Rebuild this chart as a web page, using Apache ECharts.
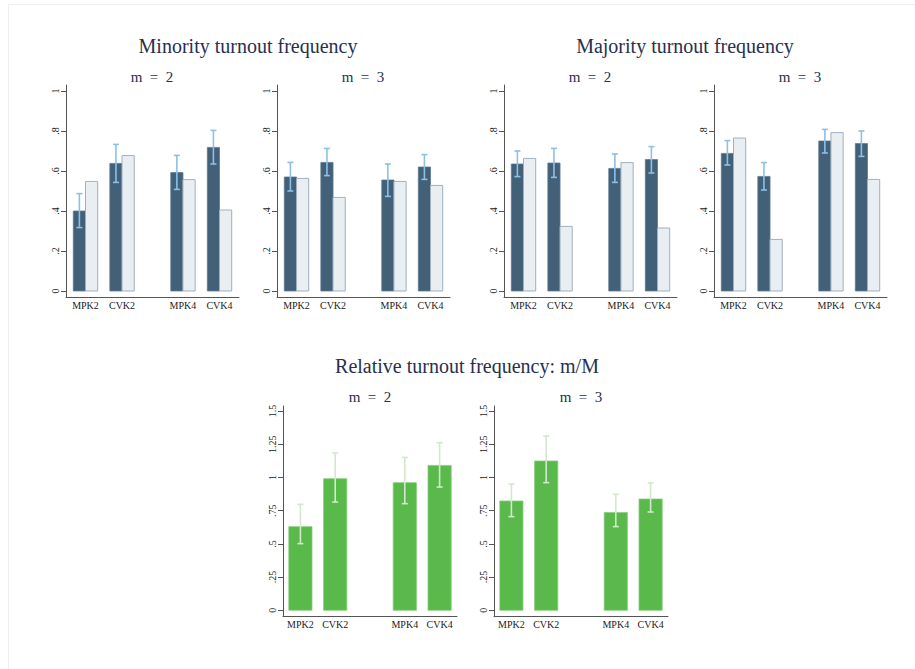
<!DOCTYPE html>
<html>
<head>
<meta charset="utf-8">
<script src="https://cdn.jsdelivr.net/npm/echarts@6/dist/echarts.min.js"></script>
<style>
  html, body { margin: 0; padding: 0; background: #ffffff; }
  #chart { width: 915px; height: 669px; }
</style>
</head>
<body>
<div id="chart"></div>
<script>
// ---------- data ----------
const categories = ['MPK2', 'CVK2', 'MPK4', 'CVK4'];
const freqTicks = [0, 0.2, 0.4, 0.6, 0.8, 1];
const relTicks = [0, 0.25, 0.5, 0.75, 1, 1.25, 1.5];

const minorityM2Obs = [0.400, 0.638, 0.592, 0.718];
const minorityM2Lo  = [0.317, 0.543, 0.508, 0.635];
const minorityM2Hi  = [0.487, 0.733, 0.678, 0.803];
const minorityM2Eq  = [0.548, 0.677, 0.557, 0.405];

const minorityM3Obs = [0.570, 0.643, 0.555, 0.620];
const minorityM3Lo  = [0.500, 0.577, 0.473, 0.558];
const minorityM3Hi  = [0.643, 0.713, 0.635, 0.682];
const minorityM3Eq  = [0.563, 0.468, 0.548, 0.528];

const majorityM2Obs = [0.635, 0.640, 0.613, 0.657];
const majorityM2Lo  = [0.572, 0.568, 0.543, 0.590];
const majorityM2Hi  = [0.700, 0.713, 0.685, 0.722];
const majorityM2Eq  = [0.663, 0.323, 0.642, 0.315];

const majorityM3Obs = [0.688, 0.573, 0.750, 0.737];
const majorityM3Lo  = [0.630, 0.505, 0.690, 0.673];
const majorityM3Hi  = [0.752, 0.642, 0.808, 0.800];
const majorityM3Eq  = [0.765, 0.258, 0.792, 0.558];

const relativeM2    = [0.630, 0.991, 0.961, 1.091];
const relativeM2Lo  = [0.502, 0.815, 0.803, 0.928];
const relativeM2Hi  = [0.798, 1.184, 1.151, 1.262];

const relativeM3    = [0.823, 1.124, 0.737, 0.838];
const relativeM3Lo  = [0.705, 0.961, 0.630, 0.740];
const relativeM3Hi  = [0.951, 1.312, 0.873, 0.958];

// ---------- layout / style ----------
const SERIF = '"Liberation Serif", "DejaVu Serif", serif';
const NAVY = '#27304f';
const AXIS = '#555555';
const DARK = '#436079';
const LIGHT = '#e9eef2';
const LIGHT_BORDER = '#9fb0bf';
const CI_BLUE = '#8cc0e6';
const GREEN = '#59b94b';
const CI_GREEN = '#d2e7cd';

// group slots along the x axis (a wider gap between the 2 and 4 groups)
const topPos = categories.map((c, i) => i * 3 + (i >= 2 ? 2 : 0));
const botPos = categories.map((c, i) => i * 3 + (i >= 2 ? 3 : 0));

const tickFmt = v => {
  const s = String(+v.toFixed(2));
  return s.startsWith('0.') ? s.slice(1) : s;
};

const chart = echarts.init(document.getElementById('chart'), null, { renderer: 'svg' });

const grids = [], xAxes = [], yAxes = [], series = [];

function addPanel(left, top, width, height, pos, xMin, xMax, yMin, yMax, ticks) {
  const idx = grids.length;
  grids.push({ left, top, width, height, containLabel: false });
  xAxes.push({
    gridIndex: idx, type: 'value', min: xMin, max: xMax,
    axisLine: { show: true, onZero: false, lineStyle: { color: AXIS, width: 1 } },
    axisTick: { show: false },
    splitLine: { show: false },
    axisLabel: {
      show: true, customValues: pos, margin: 3,
      formatter: v => categories[pos.indexOf(v)] || '',
      fontFamily: SERIF, fontSize: 10, color: '#222'
    }
  });
  yAxes.push({
    gridIndex: idx, type: 'value', min: yMin, max: yMax,
    axisLine: { show: true, onZero: false, lineStyle: { color: AXIS, width: 1 } },
    axisTick: { show: true, customValues: ticks, length: 5, lineStyle: { color: AXIS } },
    splitLine: { show: false },
    axisLabel: {
      show: true, customValues: ticks, rotate: 90, margin: 6,
      formatter: tickFmt, fontFamily: SERIF, fontSize: 10, color: '#222'
    }
  });
  return idx;
}

function barSeries(idx, pos, values, offset, w, fill, stroke, strokeW) {
  return {
    type: 'custom', xAxisIndex: idx, yAxisIndex: idx,
    data: values.map((v, i) => [pos[i], v]),
    encode: { x: 0, y: 1 },
    renderItem: (params, api) => {
      const x = api.value(0), v = api.value(1);
      const a = api.coord([x + offset, 0]);
      const b = api.coord([x + offset + w, v]);
      return {
        type: 'rect',
        shape: { x: a[0], y: b[1], width: b[0] - a[0], height: a[1] - b[1] },
        style: { fill, stroke, lineWidth: strokeW }
      };
    },
    z: 2
  };
}

function ciSeries(idx, pos, lo, hi, offset, color) {
  return {
    type: 'custom', xAxisIndex: idx, yAxisIndex: idx,
    data: lo.map((l, i) => [pos[i], l, hi[i]]),
    encode: { x: 0, y: [1, 2] },
    renderItem: (params, api) => {
      const x = api.value(0) + offset;
      const p1 = api.coord([x, api.value(1)]);
      const p2 = api.coord([x, api.value(2)]);
      const cw = 3;
      const st = { stroke: color, lineWidth: 1.6 };
      return {
        type: 'group',
        children: [
          { type: 'line', shape: { x1: p1[0], y1: p1[1], x2: p2[0], y2: p2[1] }, style: st },
          { type: 'line', shape: { x1: p1[0] - cw, y1: p1[1], x2: p1[0] + cw, y2: p1[1] }, style: st },
          { type: 'line', shape: { x1: p2[0] - cw, y1: p2[1], x2: p2[0] + cw, y2: p2[1] }, style: st }
        ]
      };
    },
    z: 3
  };
}

function freqPanel(left, obs, eq, lo, hi) {
  const idx = addPanel(left, 85, 173, 212, topPos, -1.6, 12.6, -0.03, 1.03, freqTicks);
  series.push(barSeries(idx, topPos, obs, -1, 1, DARK, '#5d7890', 0.8));
  series.push(barSeries(idx, topPos, eq, 0, 1, LIGHT, LIGHT_BORDER, 1));
  series.push(ciSeries(idx, topPos, lo, hi, -0.5, CI_BLUE));
}

function relPanel(left, vals, lo, hi) {
  const idx = addPanel(left, 406, 174, 210.7, botPos, -1.5, 13.5, -0.048, 1.538, relTicks);
  series.push(barSeries(idx, botPos, vals, -1, 2, GREEN, '#86cd7b', 0.8));
  series.push(ciSeries(idx, botPos, lo, hi, 0, CI_GREEN));
}

freqPanel(66, minorityM2Obs, minorityM2Eq, minorityM2Lo, minorityM2Hi);
freqPanel(277, minorityM3Obs, minorityM3Eq, minorityM3Lo, minorityM3Hi);
freqPanel(504, majorityM2Obs, majorityM2Eq, majorityM2Lo, majorityM2Hi);
freqPanel(714, majorityM3Obs, majorityM3Eq, majorityM3Lo, majorityM3Hi);
relPanel(283, relativeM2, relativeM2Lo, relativeM2Hi);
relPanel(494, relativeM3, relativeM3Lo, relativeM3Hi);

function ttl(text, x, y, size) {
  return {
    text, left: x, top: y, textAlign: 'center', padding: 0,
    textStyle: { fontFamily: SERIF, fontSize: size, fontWeight: 'normal', color: NAVY }
  };
}

const titles = [
  ttl('Minority turnout frequency', 248, 36, 20),
  ttl('Majority turnout frequency', 685, 36, 20),
  ttl('Relative turnout frequency: m/M', 467, 356, 20),
  ttl('m\u2002=\u20022', 152, 69, 15),
  ttl('m\u2002=\u20023', 363, 69, 15),
  ttl('m\u2002=\u20022', 590, 69, 15),
  ttl('m\u2002=\u20023', 800, 69, 15),
  ttl('m\u2002=\u20022', 370, 389, 15),
  ttl('m\u2002=\u20023', 581, 389, 15)
];

chart.setOption({
  backgroundColor: '#ffffff',
  animation: false,
  title: titles,
  graphic: [{
    type: 'rect', silent: true, z: -10,
    shape: { x: 8.5, y: 4.5, width: 1000, height: 1000 },
    style: { fill: 'none', stroke: '#eeeeee', lineWidth: 1 }
  }],
  grid: grids,
  xAxis: xAxes,
  yAxis: yAxes,
  series
});
</script>
</body>
</html>
